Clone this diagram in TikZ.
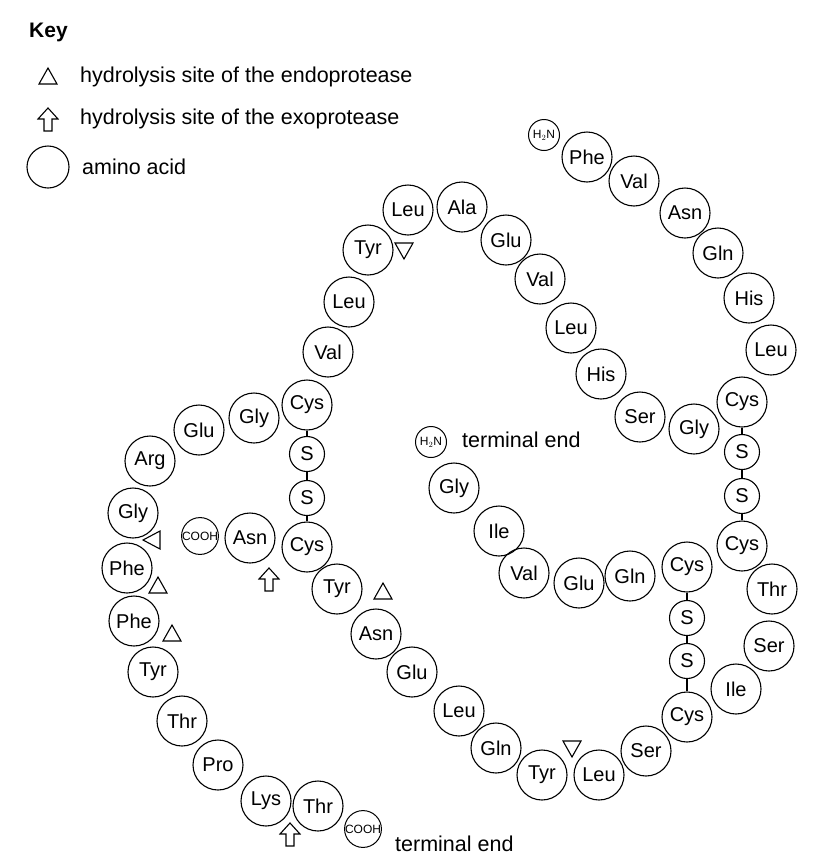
\documentclass[tikz,border=0pt]{standalone}
\usepackage{fontspec}
\setmainfont{Liberation Sans}
\begin{document}
\begin{tikzpicture}[x=1pt,y=-1pt,
 aa/.style={circle,draw,line width=1.1pt,minimum size=50pt,inner sep=0pt,font=\fontsize{20}{22}\selectfont},
 ss/.style={circle,draw,line width=1.1pt,minimum size=35pt,inner sep=0pt,font=\fontsize{20}{22}\selectfont},
 tm/.style={circle,draw,line width=1pt,minimum size=31pt,inner sep=0pt,font=\fontsize{12}{13}\selectfont},
 lbl/.style={anchor=west,font=\fontsize{21.5}{24}\selectfont,inner sep=0pt},
 bond/.style={line width=1.1pt},
 tri/.style={draw,line width=1.1pt,fill=white},
 pics/uparr/.style={code={\draw[line width=1.1pt,line join=miter] (-4,12)--(-4,0)--(-10,0)--(0,-11)--(10,0)--(4,0)--(4,12)--cycle;}},
 pics/uptri/.style={code={\draw[tri] (0,-9)--(-9,7)--(9,7)--cycle;}},
 pics/dntri/.style={code={\draw[tri] (0,9)--(-9,-7)--(9,-7)--cycle;}},
 pics/lftri/.style={code={\draw[tri] (-9,0)--(8,-9)--(8,9)--cycle;}}]
\useasboundingbox (0,0) rectangle (834,860);
% key
\node[anchor=west,font=\bfseries\fontsize{21}{24}\selectfont,inner sep=0pt] (key) at (29,32) {Key};
\pic at (48,77) {uptri};
\node[lbl] (k1) at (80,77) {hydrolysis site of the endoprotease};
\pic at (48,119) {uparr};
\node[lbl] (k2) at (80,119) {hydrolysis site of the exoprotease};
\node[circle,draw,line width=1.1pt,minimum size=42pt] (kc) at (48,167) {};
\node[lbl] (k3) at (82,167) {amino acid};
% B chain (upper right)
\node[tm] (bn) at (544,135) {H$_2$N};
\node[aa] (b1) at (587,157) {Phe};
\node[aa] (b2) at (634,181) {Val};
\node[aa] (b3) at (685,213) {Asn};
\node[aa] (b4) at (718,253) {Gln};
\node[aa] (b5) at (749,298) {His};
\node[aa] (b6) at (771,350) {Leu};
\node[aa] (b7) at (742,402) {Cys};
\node[ss] (s1) at (742,452) {S};
\node[ss] (s2) at (742,496) {S};
\node[aa] (b8) at (742,546) {Cys};
\node[aa] (b9) at (772,589) {Thr};
\node[aa] (b10) at (769,646) {Ser};
\node[aa] (b11) at (736,689) {Ile};
\node[aa] (b12) at (687,717) {Cys};
\node[ss] (s3) at (687,661) {S};
\node[ss] (s4) at (687,618) {S};
\node[aa] (b13) at (687,567) {Cys};
\node[aa] (b14) at (646,751) {Ser};
\node[aa] (b15) at (599,775) {Leu};
\node[aa] (b16) at (542,775) {Tyr};
\node[aa] (b17) at (496,748) {Gln};
\node[aa] (b18) at (459,711) {Leu};
\node[aa] (b19) at (412,672) {Glu};
\node[aa] (b20) at (376,634) {Asn};
\node[aa] (b21) at (337,589) {Tyr};
\node[aa] (b22) at (307,547) {Cys};
\node[ss] (s5) at (307,498) {S};
\node[ss] (s6) at (307,454) {S};
\node[aa] (b23) at (307,405) {Cys};
\node[aa] (b24) at (328,352) {Val};
\node[aa] (b25) at (349,302) {Leu};
\node[aa] (b26) at (368,250) {Tyr};
\node[aa] (b27) at (408,210) {Leu};
\node[aa] (b28) at (462,207) {Ala};
\node[aa] (b29) at (506,240) {Glu};
\node[aa] (b30) at (540,279) {Val};
\node[aa] (b31) at (571,328) {Leu};
\node[aa] (b32) at (601,374) {His};
\node[aa] (b33) at (640,417) {Ser};
\node[aa] (b34) at (694,429) {Gly};
% inner chain
\node[tm] (an) at (431,442) {H$_2$N};
\node[lbl] (t1) at (462,440) {terminal end};
\node[aa] (a1) at (454,488) {Gly};
\node[aa] (a2) at (499,531) {Ile};
\node[aa] (a3) at (524,573) {Val};
\node[aa] (a4) at (579,583) {Glu};
\node[aa] (a5) at (630,576) {Gln};
% left chain
\node[aa] (c1) at (254,418) {Gly};
\node[aa] (c2) at (199,430) {Glu};
\node[aa] (c3) at (150,461) {Arg};
\node[aa] (c4) at (133,513) {Gly};
\node[aa] (c5) at (127,568) {Phe};
\node[aa] (c6) at (134,621) {Phe};
\node[aa] (c7) at (153,672) {Tyr};
\node[aa] (c8) at (182,721) {Thr};
\node[aa] (c9) at (218,765) {Pro};
\node[aa] (c10) at (266,801) {Lys};
\node[aa] (c11) at (318,806) {Thr};
\node[tm] (cc) at (363,829) {COOH};
\node[lbl] (t2) at (395,844) {terminal end};
\node[tm] (dc) at (200,536) {COOH};
\node[aa] (d1) at (250,538) {Asn};
% disulfide bonds
\draw[bond] (b7)--(s1) (s1)--(s2) (s2)--(b8);
\draw[bond] (b13)--(s4) (s4)--(s3) (s3)--(b12);
\draw[bond] (b23)--(s6) (s6)--(s5) (s5)--(b22);
% cleavage marks
\pic at (404,250) {dntri};
\pic at (572,748) {dntri};
\pic at (152,540) {lftri};
\pic at (158,586) {uptri};
\pic at (172,634) {uptri};
\pic at (383,592) {uptri};
\pic at (269,579) {uparr};
\pic at (290,834) {uparr};
\end{tikzpicture}
\end{document}
